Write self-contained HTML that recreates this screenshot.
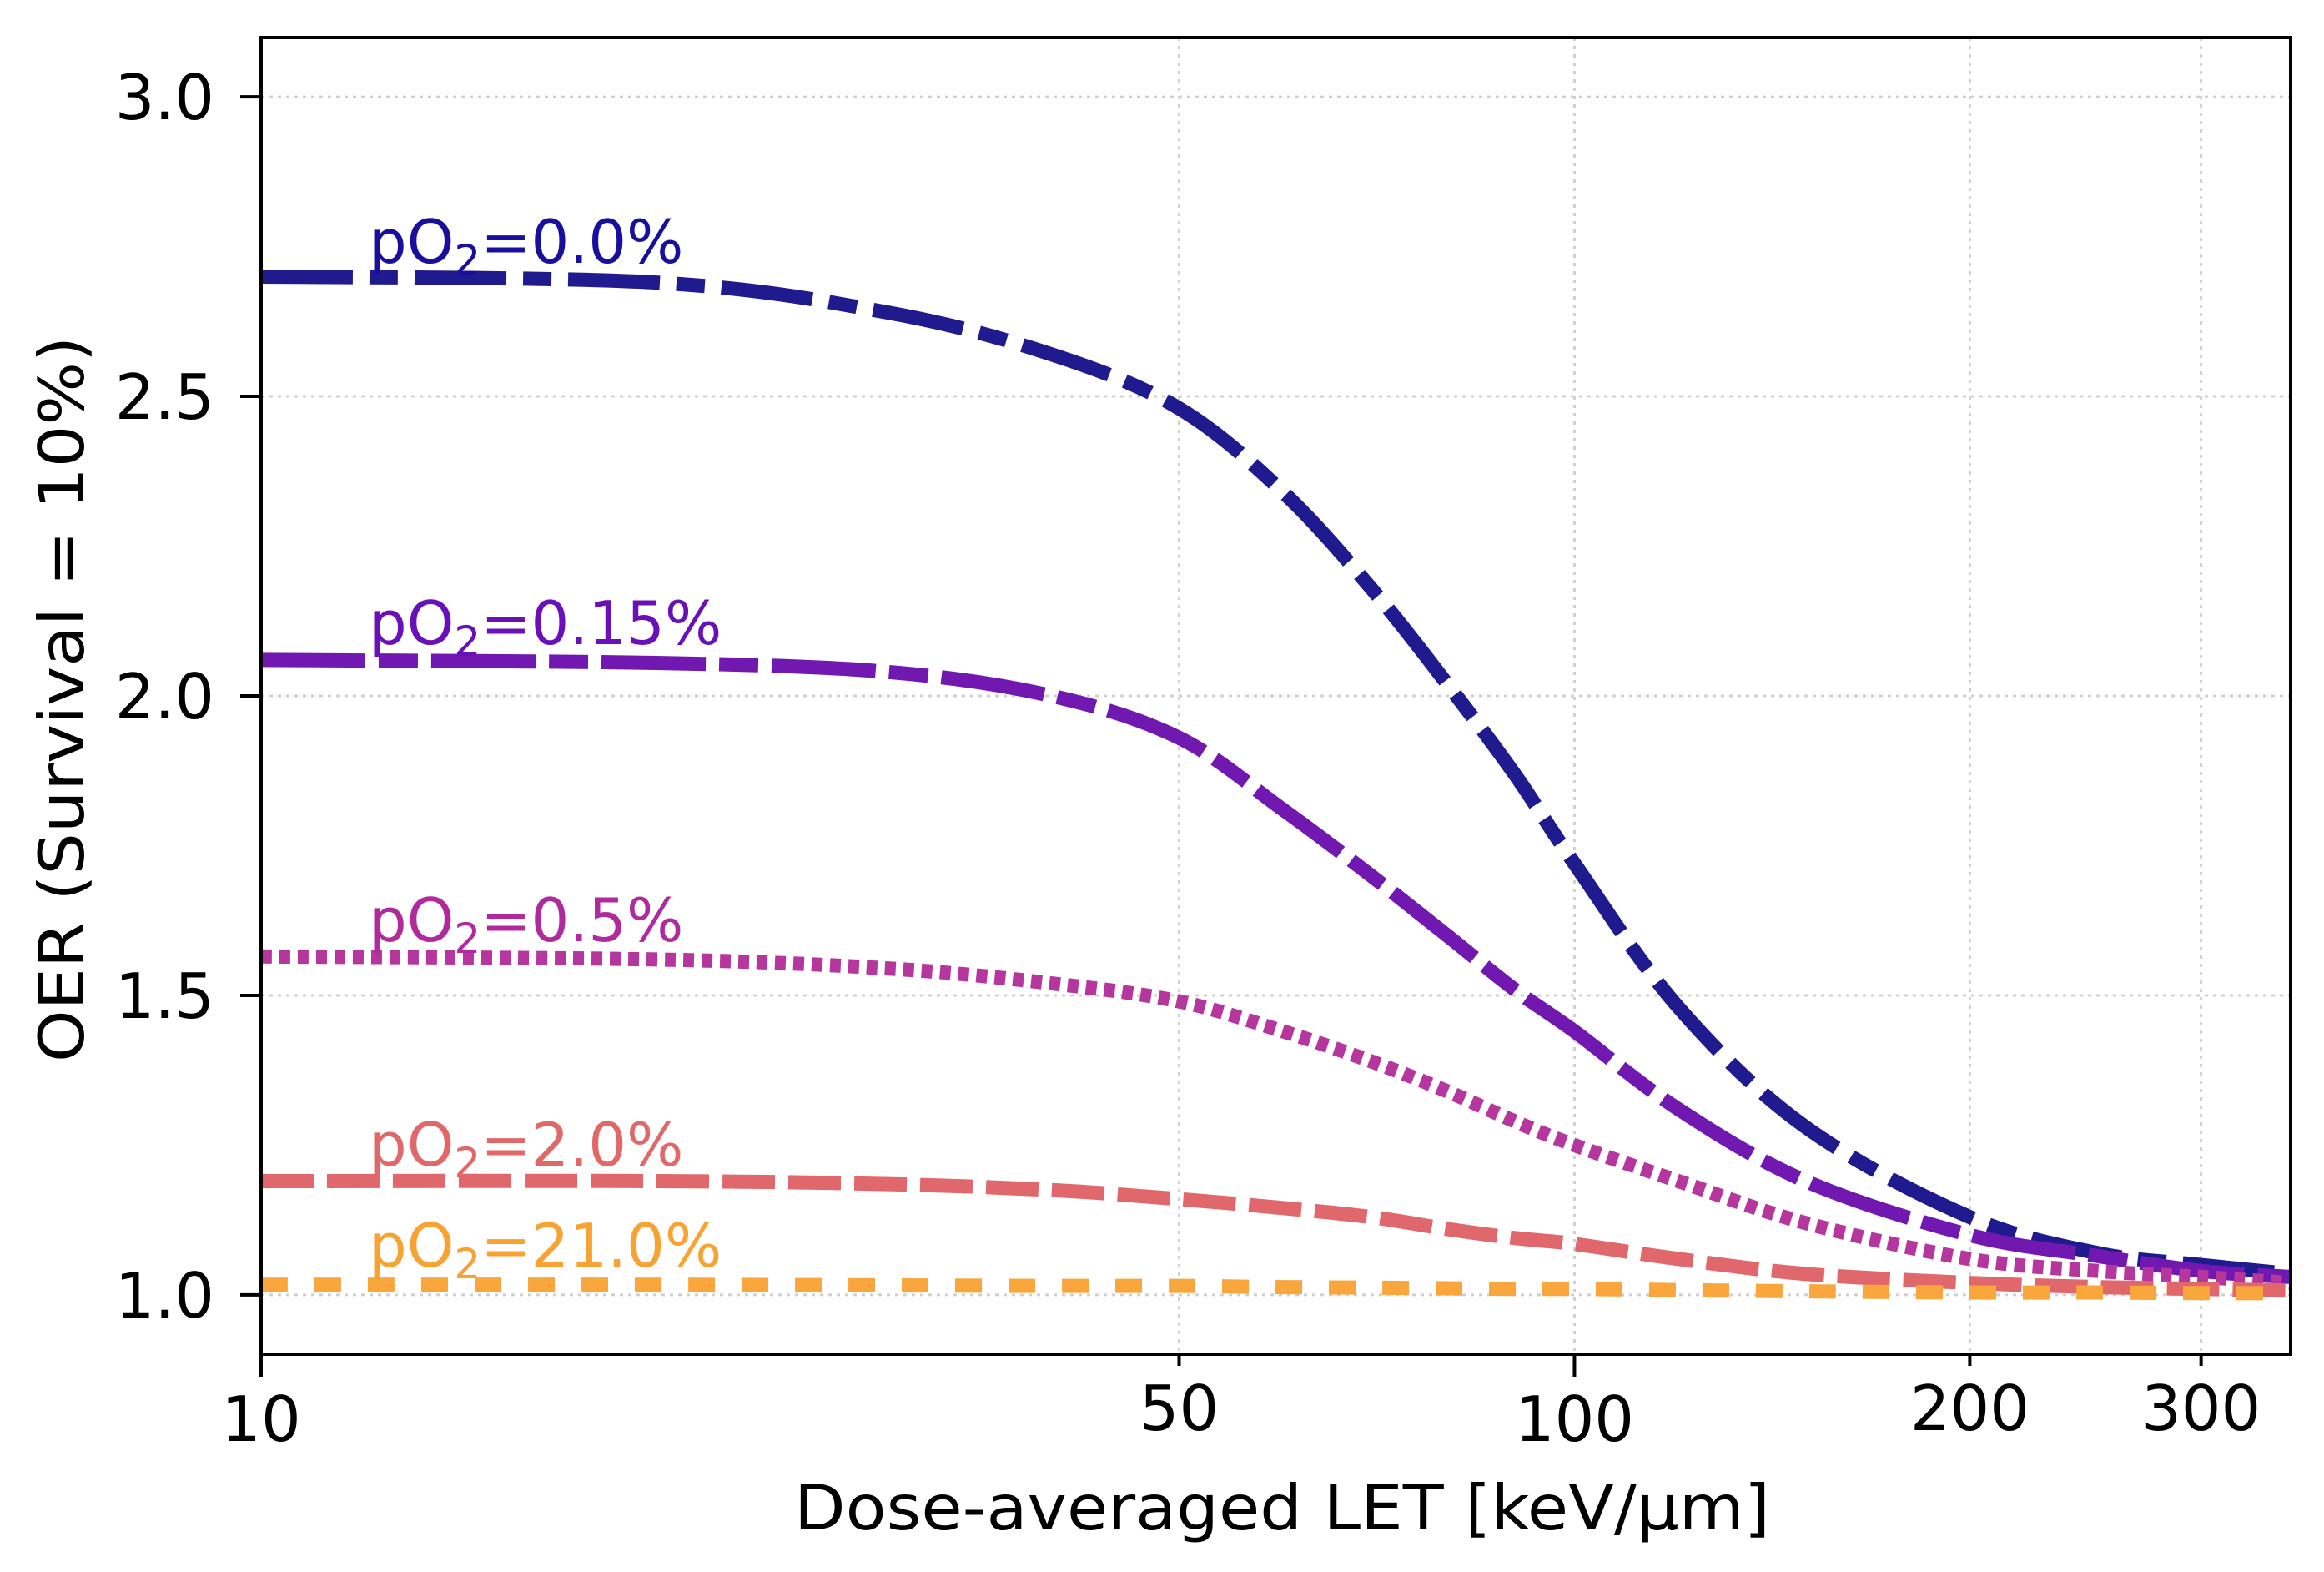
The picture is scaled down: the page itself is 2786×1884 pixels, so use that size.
<!DOCTYPE html>
<html><head><meta charset="utf-8"><style>
html,body{margin:0;padding:0;background:#fff;}
svg{display:block;font-family:"DejaVu Sans","Liberation Sans",sans-serif;}
</style></head><body>
<svg id="chart" width="2786" height="1884" viewBox="0 0 2786 1884" xmlns="http://www.w3.org/2000/svg">
<g id="grid"></g>
<g id="series"></g>
<g id="labels"></g>
<rect x="313" y="45" width="2433" height="1578" fill="none" stroke="#000" stroke-width="4"/>
<g id="axes"></g>
<text x="1537" y="1833" text-anchor="middle" font-size="75" textLength="1170" lengthAdjust="spacingAndGlyphs">Dose-averaged LET [keV/μm]</text>
<text transform="translate(100,838) rotate(-90)" text-anchor="middle" font-size="75" textLength="870" lengthAdjust="spacingAndGlyphs">OER (Survival = 10%)</text>
</svg>
<script>
const letX = [10,20,30,40,50,60,70,80,90,100,120,150,200,250,300,351];
const oer00 = [2.70,2.69,2.64,2.57,2.48,2.34,2.18,2.02,1.87,1.72,1.48,1.28,1.13,1.07,1.05,1.035];
const oer015 = [2.06,2.055,2.04,2.0,1.93,1.81,1.70,1.60,1.51,1.44,1.31,1.19,1.10,1.065,1.04,1.03];
const oer05 = [1.565,1.56,1.545,1.52,1.49,1.44,1.39,1.34,1.29,1.25,1.19,1.12,1.06,1.04,1.03,1.02];
const oer20 = [1.19,1.19,1.185,1.175,1.16,1.145,1.13,1.11,1.095,1.085,1.06,1.035,1.02,1.013,1.01,1.007];
const oer210 = [1.017,1.017,1.016,1.015,1.015,1.013,1.012,1.011,1.01,1.01,1.008,1.006,1.004,1.004,1.003,1.003];
const seriesNames = ["0.0%","0.15%","0.5%","2.0%","21.0%"];
const yTicks = [1.0,1.5,2.0,2.5,3.0];
const xTicks = [10,50,100,200,300];
const xTickLabels = ["10","50","100","200","300"];

const L=313,R=2746,T=45,B=1623, xmin=10,xmax=351,ymin=0.901,ymax=3.099;
const NS="http://www.w3.org/2000/svg";
function sx(v){return L+(Math.log10(v)-Math.log10(xmin))/(Math.log10(xmax)-Math.log10(xmin))*(R-L);}
function sy(v){return B-(v-ymin)/(ymax-ymin)*(B-T);}
function mk(tag,attrs,parent){const e=document.createElementNS(NS,tag);for(const k in attrs)e.setAttribute(k,attrs[k]);parent.appendChild(e);return e;}

const grid=document.getElementById('grid'), axes=document.getElementById('axes');
yTicks.forEach((t,i)=>{
  const g=mk('line',{x1:L,x2:R,y1:sy(t),y2:sy(t),stroke:'#d0d0d0','stroke-width':3,'stroke-dasharray':'4 6'},grid);
  
  
  const tk=mk('line',{x1:L-25,x2:L,y1:sy(t),y2:sy(t),stroke:'#000','stroke-width':4},axes);
  
  
  const tx=mk('text',{x:257,y:sy(t)+27,'text-anchor':'end','font-size':75},axes);
  
  
  tx.textContent=t.toFixed(1);
});
xTicks.forEach((t,i)=>{
  const major=(t===10||t===100);
  if(t!==10){
    const g=mk('line',{x1:sx(t),x2:sx(t),y1:T,y2:B,stroke:'#d0d0d0','stroke-width':3,'stroke-dasharray':'4 6'},grid);
    
    
  }
  const tk=mk('line',{x1:sx(t),x2:sx(t),y1:B,y2:B+(major?27:14),stroke:'#000','stroke-width':4},axes);
  
  
  const tx=mk('text',{x:sx(t),y:major?1727:1714,'text-anchor':'middle','font-size':75},axes);
  
  
  tx.textContent=xTickLabels[i];
});

function smoothPath(xs,ys){
  const P=xs.map((x,i)=>[sx(x),sy(ys[i])]);
  let d='M'+P[0][0]+','+P[0][1];
  for(let i=0;i<P.length-1;i++){
    const p0=P[Math.max(0,i-1)],p1=P[i],p2=P[i+1],p3=P[Math.min(P.length-1,i+2)];
    const c1=[p1[0]+(p2[0]-p0[0])/6,p1[1]+(p2[1]-p0[1])/6];
    const c2=[p2[0]-(p3[0]-p1[0])/6,p2[1]-(p3[1]-p1[1])/6];
    d+=' C'+c1[0]+','+c1[1]+' '+c2[0]+','+c2[1]+' '+p2[0]+','+p2[1];
  }
  return d;
}
const sData=[oer00,oer015,oer05,oer20,oer210];
const colors=["#1f1a8e","#7118b0","#b5369c","#e0686c","#f9a63c"];
const labelColors=["#1a0f9c","#6a10b8","#b02a9e","#e06868","#f8a232"];
const dashes=["110 20 34 20","125 16 47 16","13 9","63 16","32 32"];
const labelY=[315,772,1128,1397,1518];
const sg=document.getElementById('series'), lg=document.getElementById('labels');
sData.forEach((vals,i)=>{
  const p=mk('path',{d:smoothPath(letX,vals),fill:'none',stroke:colors[i],'stroke-width':17,'stroke-dasharray':dashes[i]},sg);
  
  
  const t=mk('text',{x:442,y:labelY[i],'font-size':72,fill:labelColors[i]},lg);
  
  
  t.appendChild(document.createTextNode('pO'));
  const sub=mk('tspan',{'font-size':50,dy:14},t);
  sub.textContent='2';
  const rest=mk('tspan',{dy:-14},t);
  rest.textContent='='+seriesNames[i];
});
</script>
</body></html>
